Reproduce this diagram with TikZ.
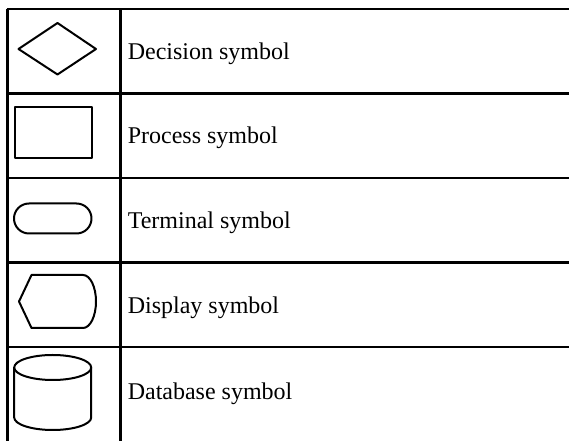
\documentclass[tikz,border=0pt]{standalone}
\usepackage{fontspec}
\setmainfont{Liberation Serif}
\usepackage{tikz}

\begin{document}
\begin{tikzpicture}[x=0.75pt,y=0.75pt]
\tikzstyle{every node}+=[inner sep=0pt]
\tikzstyle{rule}=[black, line width=1.6pt]
\tikzstyle{sym}=[black, line width=1.5pt, line join=round]
\tikzstyle{legend}=[anchor=base west, font=\fontsize{18}{20}\selectfont]
\useasboundingbox (0,0) rectangle (569,-441);
% table grid
\draw [rule] (7.5,-9) -- (7.5,-441);
\draw [rule] (120.5,-9) -- (120.5,-441);
\draw [rule] (6.7,-9) -- (569,-9);
\draw [rule] (6.7,-93.5) -- (569,-93.5);
\draw [rule] (6.7,-178) -- (569,-178);
\draw [rule] (6.7,-262.5) -- (569,-262.5);
\draw [rule] (6.7,-347) -- (569,-347);
% symbols
\draw [sym] (18.5,-49) -- (57.5,-23) -- (96,-49) -- (57.5,-74.5) -- cycle;
\draw [sym] (15,-107) rectangle (91.5,-158);
\draw [sym, rounded corners=11.25pt] (14,-203.5) rectangle (91.5,-233.5);
\draw [sym] (19,-301.5) -- (31.5,-275) -- (83,-275)
  arc [start angle=90, end angle=-90, x radius=13, y radius=26.5]
  -- (31.5,-328) -- cycle;
\draw [sym] (52.7,-367.5) ellipse [x radius=38.5, y radius=12.5];
\draw [sym] (14.2,-367.5) -- (14.2,-417.5)
  arc [start angle=180, end angle=360, x radius=38.5, y radius=12.5]
  -- (91.2,-367.5);
% labels
\node [legend] (decision) at (127.5,-59.5) {Decision symbol};
\node [legend] (process) at (127.5,-144) {Process symbol};
\node [legend] (terminal) at (127.5,-228.5) {Terminal symbol};
\node [legend] (display) at (127.5,-313.5) {Display symbol};
\node [legend] (database) at (127.5,-399.5) {Database symbol};
\end{tikzpicture}
\end{document}
